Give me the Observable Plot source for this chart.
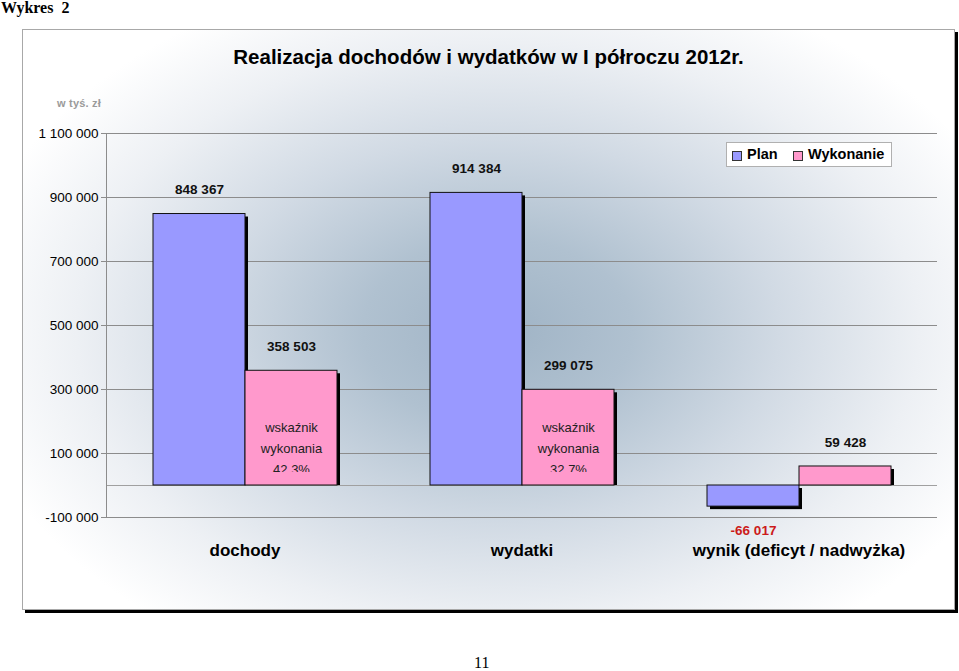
<!DOCTYPE html>
<html>
<head>
<meta charset="utf-8">
<script src="https://cdn.jsdelivr.net/npm/d3@7"></script>
<script src="https://cdn.jsdelivr.net/npm/@observablehq/plot@0.6"></script>
<style>
  html, body { margin: 0; padding: 0; background: #fff; }
  #page { position: relative; width: 959px; height: 671px; overflow: hidden; font-family: "Liberation Sans", Arial, sans-serif; }
  #hdr { position: absolute; left: 1px; top: 0px; font-family: "Liberation Serif", "Times New Roman", serif; font-weight: bold; font-size: 16px; line-height: 16px; white-space: pre; }
  #pnum { position: absolute; left: 474px; top: 654px; font-family: "Liberation Serif", "Times New Roman", serif; font-size: 16px; }
  #frame { position: absolute; left: 22px; top: 29px; width: 931px; height: 579px; border: 1px solid #a8a8a8;
    box-shadow: 3px 3px 0 #000;
    background: radial-gradient(ellipse 58% 64% at 51% 52%, #9fb3c5 0%, #b0c1d0 25%, #d1dae4 52%, #edf0f4 78%, #ffffff 100%); }
  #title { position: absolute; left: 22px; width: 933px; top: 45px; text-align: center; font-weight: bold; font-size: 20.5px; color: #000; }
  #unit { position: absolute; left: 57px; top: 97px; font-size: 11px; font-weight: bold; color: #9a9a9a; letter-spacing: 0.2px; }
  #legend { position: absolute; left: 726px; top: 142px; width: 166px; height: 25px; background: #fff; border: 1px solid #b0b0b0; box-sizing: border-box; }
  .li { position: absolute; top: 3px; font-size: 14.5px; font-weight: bold; line-height: 16px; }
  .sw { position: absolute; top: 8px; width: 8px; height: 8px; border: 1px solid #333; }
  #chart { position: absolute; left: 0; top: 0; }
</style>
</head>
<body>
<div id="page">
  <div id="hdr">Wykres  2</div>
  <div id="frame"></div>
  <div id="title">Realizacja dochodów i wydatków w I półroczu 2012r.</div>
  <div id="unit">w tyś. zł</div>
  <div id="chart"></div>
  <div id="legend">
    <div class="sw" style="left:5px;background:#9999ff"></div>
    <div class="li" style="left:20px">Plan</div>
    <div class="sw" style="left:66px;background:#ff99cc"></div>
    <div class="li" style="left:81px">Wykonanie</div>
  </div>
  <div id="pnum">11</div>
</div>
<script>
const categories = ["dochody", "wydatki", "wynik (deficyt / nadwyżka)"];
const series = ["Plan", "Wykonanie"];
const planValues = [848367, 914384, -66017];
const wykonanieValues = [358503, 299075, 59428];
const seriesColors = ["#9999ff", "#ff99cc"];
const yTicks = [-100000, 100000, 300000, 500000, 700000, 900000, 1100000];
const indicatorLabel = "wskaźnik\nwykonania";

const loc = d3.formatLocale({decimal: ",", thousands: " ", grouping: [3], currency: ["", ""], minus: "-"});
const fmtInt = loc.format(",d");
const fmtPct = loc.format(".1f");

const data = [];
categories.forEach((c, i) => {
  data.push({cat: c, series: "Plan", value: planValues[i]});
  data.push({cat: c, series: "Wykonanie", value: wykonanieValues[i]});
});
// indicator inside Wykonanie bars for dochody & wydatki
const indicators = categories.slice(0, 2).map((c, i) => ({
  cat: c, series: "Wykonanie",
  text: indicatorLabel + "\n" + fmtPct(wykonanieValues[i] / planValues[i] * 100) + "%"
}));

let clipId = 0;
function clipAbove(offset) {
  return function(index, scales, values, dimensions, context, next) {
    const g = next(index, scales, values, dimensions, context);
    const id = "clipind" + (clipId++);
    const ns = "http://www.w3.org/2000/svg";
    const cp = document.createElementNS(ns, "clipPath");
    cp.setAttribute("id", id);
    const r = document.createElementNS(ns, "rect");
    r.setAttribute("x", -2000); r.setAttribute("y", 0);
    r.setAttribute("width", 5000); r.setAttribute("height", scales.y(0) - offset);
    cp.appendChild(r);
    const wrap = document.createElementNS(ns, "g");
    const inner = document.createElementNS(ns, "g");
    wrap.appendChild(cp);
    inner.setAttribute("clip-path", `url(#${id})`);
    inner.appendChild(g);
    wrap.appendChild(inner);
    return wrap;
  };
}

const pos = data.filter(d => d.value >= 0);
const neg = data.filter(d => d.value < 0);

const chart = Plot.plot({
  width: 959,
  height: 671,
  marginTop: 133,
  marginBottom: 154,
  marginLeft: 105,
  marginRight: 22,
  style: {background: "transparent", fontFamily: "'Liberation Sans', Arial, sans-serif", color: "#000", overflow: "visible"},
  fx: {domain: categories, padding: 0, label: null},
  x: {domain: series, paddingInner: 0, paddingOuter: 0.5, axis: null},
  y: {domain: [-100000, 1100000], label: null},
  color: {domain: series, range: seriesColors},
  marks: [
    Plot.gridY(yTicks, {stroke: "#8c8c8c", strokeOpacity: 1, strokeWidth: 1}),
    Plot.ruleY([0], {stroke: "#a0a0a0", strokeWidth: 1.2}),
    Plot.frame({anchor: "left", facetAnchor: "left", stroke: "#8c8c8c"}),
    Plot.axisY(yTicks, {anchor: "left", tickSize: 5, tickPadding: 3, fontSize: 13.5, tickFormat: fmtInt, stroke: "#8c8c8c", label: null}),
    Plot.axisFx({anchor: "bottom", tickSize: 0, tickPadding: 26, fontSize: 17, fontWeight: "bold", label: null}),
    // shadows
    Plot.barY(pos, {fx: "cat", x: "series", y1: 0, y2: "value", fill: "#000", dx: 3, insetTop: 3}),
    Plot.barY(neg, {fx: "cat", x: "series", y1: 0, y2: "value", fill: "#000", dx: 3, dy: 3}),
    // bars
    Plot.barY(data, {fx: "cat", x: "series", y1: 0, y2: "value", fill: "series", stroke: "#111", strokeWidth: 1}),
    // value labels
    Plot.text(pos, {fx: "cat", x: "series", y: "value", text: d => fmtInt(d.value), dy: -24, fontSize: 13.5, fontWeight: "bold", fill: "#111"}),
    Plot.text(neg, {fx: "cat", x: "series", y: "value", text: d => fmtInt(d.value), dy: 24, fontSize: 13.5, fontWeight: "bold", fill: "#cc1a1a"}),
    // indicator text inside Wykonanie bars
    Plot.text(indicators, {fx: "cat", x: "series", y: () => 0, text: "text", dy: -39, lineAnchor: "middle", lineHeight: 1.62, fontSize: 13, fill: "#222", render: clipAbove(13)})
  ]
});
document.getElementById("chart").appendChild(chart);
</script>
</body>
</html>
